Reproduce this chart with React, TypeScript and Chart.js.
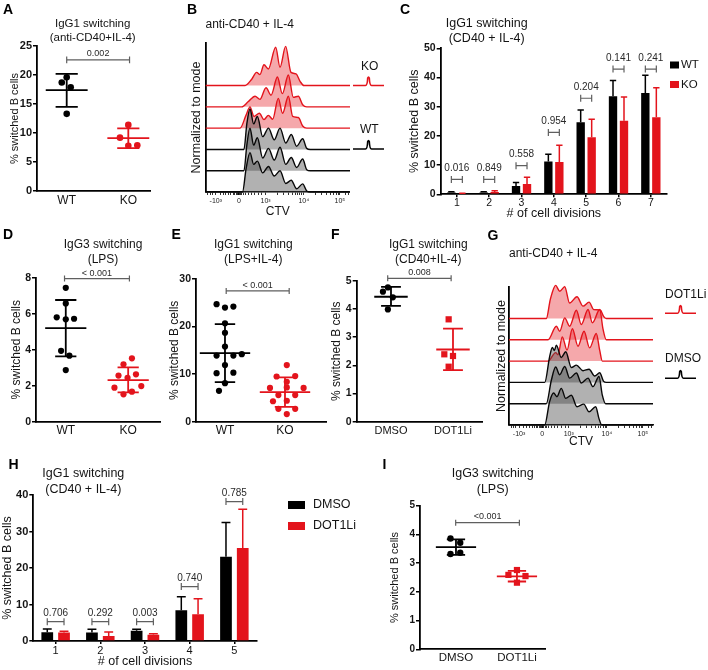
import { useEffect, useRef } from 'react';
import { Chart, registerables } from 'chart.js';

Chart.register(...registerables);

const PAGE_W = 708;
const PAGE_H = 670;
const FONT = '"Liberation Sans", Arial, Helvetica, sans-serif';
const RED = '#e3141c';
const BLK = '#000000';
const TXT = '#141414';
const BRK = '#5f5f5f';

// ===== Panel A : IgG1 switching (anti-CD40+IL-4) =====
const aCats = ['WT', 'KO'];
const aWT = [19.6, 18.7, 17.9, 13.3];
const aWTJit = [0, -0.08, 0.065, 0];
const aKO = [11.4, 9.2, 7.8, 7.9];
const aKOJit = [0, -0.135, 0, 0.146];
const aMean = [17.4, 9.1];
const aSdHi = [20.2, 10.8];
const aSdLo = [14.5, 7.4];

// ===== Panel C : IgG1 switching by division =====
const cCats = ['1', '2', '3', '4', '5', '6', '7'];
const cWT = [0.6, 0.6, 2.8, 11.2, 24.7, 33.6, 34.7];
const cWTsd = [0.3, 0.3, 1.2, 2.5, 4.2, 5.4, 6.1];
const cKO = [0.3, 0.8, 3.5, 11.1, 19.5, 25.2, 26.4];
const cKOsd = [0.1, 0.4, 2.3, 5.7, 6.2, 8.1, 10.1];
const cP = ['0.016', '0.849', '0.558', '0.954', '0.204', '0.141', '0.241'];
const cPy = [5.1, 5.1, 9.8, 21.2, 32.9, 42.9, 42.9];

// ===== Panel D : IgG3 switching (LPS) =====
const dCats = ['WT', 'KO'];
const dWT = [7.44, 6.57, 5.8, 5.69, 5.72, 3.94, 3.67, 2.87];
const dWTJit = [0, 0, -0.145, 0, 0.133, -0.075, 0.058, 0];
const dKO = [3.52, 3.19, 2.56, 2.44, 2.63, 1.89, 1.98, 1.67, 1.52];
const dKOJit = [0.06, -0.075, -0.155, -0.01, 0.125, -0.22, 0.21, 0.06, -0.075];
const dMean = [5.2, 2.31];
const dSdHi = [6.76, 3.02];
const dSdLo = [3.63, 1.63];

// ===== Panel E : IgG1 switching (LPS+IL-4) =====
const eCats = ['WT', 'KO'];
const eWT = [24.7, 24.0, 24.2, 20.7, 18.7, 15.8, 13.9, 13.9, 14.2, 11.9, 10.2, 10.3, 8.1, 6.5];
const eWTJit = [-0.14, 0, 0.14, 0, 0, 0, -0.14, 0.14, 0.28, 0, -0.14, 0.14, 0, -0.1];
const eKO = [11.9, 9.5, 9.6, 8.4, 7.1, 7.2, 7.1, 5.6, 5.6, 4.4, 2.7, 2.7, 1.6, 4.3];
const eKOJit = [0.03, -0.14, 0.17, 0.03, -0.25, 0.03, 0.31, -0.11, 0.17, 0.03, -0.11, 0.17, 0.03, -0.2];
const eMean = [14.4, 6.2];
const eSdHi = [20.5, 9.3];
const eSdLo = [8.3, 3.1];

// ===== Panel F : IgG1 switching (CD40+IL-4), DOT1L inhibitor =====
const fCats = ['DMSO', 'DOT1Li'];
const fDMSO = [4.76, 4.61, 4.41, 3.98];
const fDMSOJit = [-0.05, -0.13, 0.03, -0.05];
const fDOT = [3.63, 2.39, 2.33, 1.95];
const fDOTJit = [-0.07, -0.14, 0, -0.07];
const fMean = [4.43, 2.56];
const fSdHi = [4.78, 3.3];
const fSdLo = [4.11, 1.83];

// ===== Panel H : IgG1 switching by division, DOT1Li =====
const hCats = ['1', '2', '3', '4', '5'];
const hDMSO = [2.4, 2.3, 2.8, 8.4, 23.1];
const hDMSOsd = [0.9, 0.9, 0.4, 3.7, 9.4];
const hDOT = [2.3, 1.4, 1.7, 7.3, 25.5];
const hDOTsd = [0.35, 1.1, 0.3, 4.3, 10.6];
const hP = ['0.706', '0.292', '0.003', '0.740', '0.785'];
const hPy = [5.3, 5.3, 5.3, 14.9, 38.2];

// ===== Panel I : IgG3 switching (LPS), DOT1Li =====
const iCats = ['DMSO', 'DOT1Li'];
const iDMSO = [3.86, 3.71, 3.32, 3.36];
const iDMSOJit = [-0.09, 0.07, -0.09, 0.07];
const iDOT = [2.76, 2.59, 2.55, 2.32];
const iDOTJit = [0, -0.14, 0.14, 0];
const iMean = [3.56, 2.54];
const iSdHi = [3.83, 2.73];
const iSdLo = [3.29, 2.36];

// ===== CTV histograms (B, G): [channel %, height in lane units] =====
const ctvMajor = [7, 23, 41.5, 68, 93];
const ctvLabels = ['-10³', '0', '10³', '10⁴', '10⁵'];
const ctvMinor = [1.5, 3, 4.5, 10, 12, 14, 16, 17.5, 19, 20, 21, 21.8, 22.4, 23.6, 24.2, 25, 26, 27.5, 29.5, 31.5, 34, 36.5, 39, 49.5, 54, 57.3, 59.9, 62, 63.8, 65.3, 66.7, 76, 80.5, 84, 86.5, 88.5, 90.3, 91.8, 97, 99];
const laneBase = [0, 1, 2, 3, 4, 5];

const bBlack3 = [[0, 0], [25.5, 0], [28, 1.1], [30.7, 1.85], [33.2, 1.3], [35.8, 1.45], [39.5, 0.9], [43.5, 1.2], [47.5, 0.75], [51.5, 1.0], [55.5, 0.4], [59.3, 0.55], [63, 0.15], [67.2, 0.38], [70, 0.05], [72.5, 0], [100, 0]];
const bBlack2 = [[0, 0], [26.5, 0], [28.5, 1.2], [30.7, 2.0], [33.2, 1.2], [35.8, 1.55], [39.5, 0.6], [43.5, 1.05], [47.5, 0.5], [51.5, 1.1], [55.5, 0.3], [59.3, 0.62], [63, 0.15], [67.2, 0.55], [70, 0.05], [72.5, 0], [100, 0]];
const bBlack1 = [[0, 0], [26.5, 0], [28.5, 1.2], [30.7, 1.9], [33.2, 1.2], [35.8, 1.55], [39.5, 0.6], [43.5, 1.0], [47.5, 0.45], [51.5, 1.0], [55.5, 0.3], [59.3, 0.7], [63, 0.15], [67.2, 0.5], [70, 0.05], [72.5, 0], [100, 0]];
const bRed3 = [[0, 0], [23.8, 0], [27.9, 0.6], [30.7, 1.0], [33.5, 0.55], [37.2, 0.7], [40.4, 0.4], [43.4, 0.6], [46.4, 0.42], [50.3, 1.4], [53.3, 0.7], [57.3, 1.5], [60.3, 0.55], [64.2, 0.5], [67.2, 0.1], [70, 0], [100, 0]];
const bRed2 = [[0, 0], [24.9, 0], [29.6, 0.25], [34.2, 0.5], [37.6, 0.35], [41.8, 0.9], [45.3, 0.55], [49.7, 1.4], [53.1, 0.62], [57.3, 1.5], [60.7, 0.45], [64.2, 0.5], [67.2, 0.1], [70, 0], [100, 0]];
const bRed1 = [[0, 0], [27.3, 0], [31.9, 0.3], [35.3, 0.62], [37.6, 0.52], [40.4, 0.98], [43.4, 0.78], [48.5, 1.8], [51.5, 0.86], [55.4, 1.84], [59.1, 0.62], [62.6, 0.55], [65.4, 0.2], [68.1, 0], [100, 0]];

const gBlack3 = [[0, 0], [24.8, 0], [28.2, 1.1], [31, 1.5], [33.3, 1.33], [36.3, 1.72], [39.4, 1.25], [43.3, 1.4], [47.2, 0.86], [51.9, 0.98], [55.6, 0.62], [60.2, 0.86], [62.5, 0.3], [64.4, 0], [100, 0]];
const gBlack2 = [[0, 0], [25.9, 0], [29.4, 1.1], [32.4, 1.72], [35.2, 1.36], [38.7, 1.75], [42.1, 1.2], [46.8, 1.44], [50.2, 0.97], [54.9, 1.2], [58.3, 0.8], [62.5, 1.28], [64.8, 0.4], [67.1, 0], [100, 0]];
const gBlack1 = [[0, 0], [24.8, 0], [28.2, 1.2], [30.1, 1.64], [31.5, 1.5], [32.9, 1.75], [36.3, 1.17], [39.4, 1.44], [43.3, 0.7], [46.8, 0.81], [51.4, 0.55], [55.6, 0.62], [59.5, 0.3], [63, 0.45], [65.7, 0.05], [67.6, 0], [100, 0]];
const gRed3 = [[0, 0], [27.1, 0], [32.4, 0.4], [34, 0.3], [37, 1.14], [40.3, 0.52], [44, 1.52], [47.9, 0.7], [52.1, 1.4], [56, 0.62], [60.6, 1.3], [63, 0.5], [64.8, 0], [100, 0]];
const gRed2 = [[0, 0], [27.1, 0], [32.9, 0.64], [35.2, 0.4], [38.7, 1.03], [42.1, 0.64], [46.8, 1.39], [50.2, 0.72], [54.9, 1.42], [57.9, 0.8], [63, 1.42], [65.3, 0.5], [67.6, 0], [100, 0]];
const gRed1 = [[0, 0], [25.9, 0], [28.7, 0.9], [32.4, 1.55], [35.2, 1.28], [38.7, 1.5], [42.1, 0.73], [47.2, 1.02], [51.4, 0.58], [55.6, 0.77], [58.8, 0.42], [63.4, 0.4], [65.7, 0.1], [67.6, 0], [100, 0]];

// ---------- drawing helpers ----------
function drawText(ctx: any, t: string, x: number, y: number, size: number, align = 'center', weight = 'normal', color = TXT) {
  ctx.save();
  ctx.font = `${weight} ${size}px ${FONT}`;
  ctx.fillStyle = color;
  ctx.textAlign = align;
  ctx.textBaseline = 'middle';
  ctx.fillText(t, x, y);
  ctx.restore();
}

function drawBracket(ctx: any, x1: number, x2: number, y: number, label: string, dy: number, size: number, cap: number) {
  ctx.save();
  ctx.strokeStyle = BRK;
  ctx.lineWidth = 1.2;
  ctx.beginPath();
  ctx.moveTo(x1, y); ctx.lineTo(x2, y);
  ctx.moveTo(x1, y - cap); ctx.lineTo(x1, y + cap);
  ctx.moveTo(x2, y - cap); ctx.lineTo(x2, y + cap);
  ctx.stroke();
  ctx.restore();
  drawText(ctx, label, (x1 + x2) / 2, y - dy, size, 'center', 'normal', '#2a2a2a');
}

function drawPeak(ctx: any, x0: number, x1: number, base: number, top: number, color: string) {
  const xm = (x0 + x1) / 2;
  ctx.save();
  ctx.strokeStyle = color;
  ctx.lineWidth = 1.6;
  ctx.beginPath();
  ctx.moveTo(x0, base);
  ctx.lineTo(xm - 3, base);
  ctx.quadraticCurveTo(xm - 1.2, base, xm - 0.8, top + 1.5);
  ctx.quadraticCurveTo(xm, top - 0.5, xm + 0.8, top + 1.5);
  ctx.quadraticCurveTo(xm + 1.2, base, xm + 3, base);
  ctx.lineTo(x1, base);
  ctx.stroke();
  ctx.restore();
}

function decor(s: any) {
  return {
    id: 'decor',
    beforeDatasetsDraw(chart: any) {
      if (!s.summary) return;
      const ctx = chart.ctx;
      const xs = chart.scales.x;
      const ys = chart.scales.y;
      s.summary.mean.forEach((m: number, i: number) => {
        const c = i + 1;
        const cx = xs.getPixelForValue(c);
        const mh = xs.getPixelForValue(c + s.meanHalf) - cx;
        const ch = xs.getPixelForValue(c + s.capHalf) - cx;
        const yM = ys.getPixelForValue(m);
        const yH = ys.getPixelForValue(s.summary.hi[i]);
        const yL = ys.getPixelForValue(s.summary.lo[i]);
        ctx.save();
        ctx.strokeStyle = s.groups[i].color;
        ctx.lineWidth = 1.8;
        ctx.beginPath();
        ctx.moveTo(cx - mh, yM); ctx.lineTo(cx + mh, yM);
        ctx.moveTo(cx, yH); ctx.lineTo(cx, yL);
        ctx.moveTo(cx - ch, yH); ctx.lineTo(cx + ch, yH);
        ctx.moveTo(cx - ch, yL); ctx.lineTo(cx + ch, yL);
        ctx.stroke();
        ctx.restore();
      });
    },
    afterDatasetsDraw(chart: any) {
      const ctx = chart.ctx;
      const xs = chart.scales.x;
      const ys = chart.scales.y;
      if (s.series) {
        s.series.forEach((ser: any, k: number) => {
          const meta = chart.getDatasetMeta(k);
          meta.data.forEach((bar: any, i: number) => {
            const yTop = ys.getPixelForValue(ser.values[i] + ser.sd[i]);
            const cw = bar.width * 0.38;
            ctx.save();
            ctx.strokeStyle = ser.color;
            ctx.lineWidth = 1.5;
            ctx.beginPath();
            ctx.moveTo(bar.x, bar.y); ctx.lineTo(bar.x, yTop);
            ctx.moveTo(bar.x - cw, yTop); ctx.lineTo(bar.x + cw, yTop);
            ctx.stroke();
            ctx.restore();
          });
        });
        const m0 = chart.getDatasetMeta(0);
        const m1 = chart.getDatasetMeta(1);
        s.brackets.labels.forEach((lab: string, i: number) => {
          drawBracket(ctx, m0.data[i].x, m1.data[i].x, ys.getPixelForValue(s.brackets.y[i]), lab, s.brackets.dy, s.brackets.size, s.brackets.cap);
        });
      }
      if (s.bracket) {
        const b = s.bracket;
        drawBracket(ctx, xs.getPixelForValue(b.from), xs.getPixelForValue(b.to), ys.getPixelForValue(b.y), b.label, b.dy, b.size, b.cap);
      }
    },
    afterDraw(chart: any) {
      const ctx = chart.ctx;
      if (s.letter) drawText(ctx, s.letter[0], s.letter[1], s.letter[2], 14, 'left', 'bold', '#000');
      if (s.title) {
        s.title.lines.forEach((ln: string, i: number) => drawText(ctx, ln, s.title.x, s.title.ys[i], s.title.size, s.title.align || 'center'));
      }
      if (s.legend) {
        const L = s.legend;
        s.series.forEach((ser: any, k: number) => {
          ctx.save();
          ctx.fillStyle = ser.color;
          ctx.fillRect(L.x, L.ys[k] - L.h / 2, L.w, L.h);
          ctx.restore();
          drawText(ctx, ser.name, L.textX, L.ys[k], L.size, 'left');
        });
      }
      if (s.peakLegend) {
        s.peakLegend.forEach((it: any) => {
          drawPeak(ctx, it.x0, it.x1, it.base, it.top, it.color);
          drawText(ctx, it.label, it.textX, it.textY, 12, 'left');
        });
      }
    },
  };
}

function frame(s: any) {
  const scaleLeft = Math.max(0, s.yTitleX - s.yTitleSize * 0.6);
  return {
    padding: { left: scaleLeft, top: s.box.t, right: PAGE_W - s.box.r, bottom: PAGE_H - s.box.b - s.xH },
    yWidth: s.box.l - scaleLeft,
  };
}

function yAxis(s: any, yWidth: number, title: string, showTicks = true) {
  return {
    min: 0,
    max: s.yMax,
    afterFit: (sc: any) => { sc.width = yWidth; },
    ticks: { display: showTicks, stepSize: s.yStep, font: { size: s.tickSize, weight: 'bold' }, color: TXT, padding: 1 },
    grid: { display: showTicks, drawOnChartArea: false, drawTicks: true, tickLength: 4, color: BLK, lineWidth: 1.5 },
    border: { display: true, color: BLK, width: 1.8 },
    title: { display: true, text: title, font: { size: s.yTitleSize }, color: TXT, padding: 0 },
  };
}

const baseOpts = {
  responsive: false,
  animation: false,
  events: [],
};

function makeScatter(s: any) {
  const lay = frame(s);
  const datasets = s.groups.map((g: any, gi: number) => ({
    type: 'scatter',
    label: s.cats[gi],
    data: g.values.map((v: number, i: number) => ({ x: gi + 1 + g.jit[i], y: v })),
    pointStyle: g.shape,
    pointRadius: g.radius,
    backgroundColor: g.color,
    borderColor: g.color,
    borderWidth: 0,
    clip: false,
  }));
  return {
    type: 'scatter',
    data: { datasets },
    options: {
      ...baseOpts,
      layout: { padding: lay.padding },
      plugins: { legend: { display: false }, tooltip: { enabled: false } },
      scales: {
        x: {
          type: 'linear',
          min: s.xMin,
          max: s.xMax,
          afterBuildTicks: (sc: any) => { sc.ticks = s.cats.map((_: string, i: number) => ({ value: i + 1 })); },
          afterFit: (sc: any) => { sc.height = s.xH; },
          grid: { display: false, drawTicks: false },
          border: { display: true, color: BLK, width: 1.8 },
          ticks: { callback: (v: number) => s.cats[Math.round(v) - 1], font: { size: s.catSize }, color: TXT, padding: s.catPad, maxRotation: 0, autoSkip: false },
        },
        y: yAxis(s, lay.yWidth, '% switched B cells'),
      },
    },
    plugins: [decor(s)],
  };
}

function makeBars(s: any) {
  const lay = frame(s);
  return {
    type: 'bar',
    data: {
      labels: s.cats,
      datasets: s.series.map((ser: any) => ({
        label: ser.name,
        data: ser.values,
        backgroundColor: ser.color,
        borderWidth: 0,
        categoryPercentage: s.catPct,
        barPercentage: s.barPct,
      })),
    },
    options: {
      ...baseOpts,
      layout: { padding: lay.padding },
      plugins: { legend: { display: false }, tooltip: { enabled: false } },
      scales: {
        x: {
          type: 'category',
          offset: true,
          afterFit: (sc: any) => { sc.height = s.xH; },
          grid: { display: true, offset: false, drawOnChartArea: false, tickLength: 3, color: BLK, lineWidth: 1.5 },
          border: { display: true, color: BLK, width: 1.8 },
          ticks: { font: { size: s.catSize }, color: TXT, padding: 0, maxRotation: 0, autoSkip: false },
          title: { display: true, text: '# of cell divisions', font: { size: s.xTitleSize }, color: TXT, padding: 0 },
        },
        y: yAxis(s, lay.yWidth, '% switched B cells'),
      },
    },
    plugins: [decor(s)],
  };
}

function makeHist(s: any) {
  const lay = frame(s);
  const ticksAll = [...ctvMajor, ...ctvMinor].sort((a, b) => a - b);
  const datasets = s.lanes.map((pts: number[][], i: number) => {
    const red = i >= 3;
    const base = laneBase[i];
    return {
      type: 'line',
      data: pts.map((p) => ({ x: p[0], y: base + p[1] })),
      borderColor: red ? RED : '#080808',
      backgroundColor: red ? 'rgba(232,48,54,0.42)' : 'rgba(70,70,70,0.42)',
      borderWidth: 1.4,
      pointRadius: 0,
      fill: { value: base },
      cubicInterpolationMode: 'monotone',
      clip: false,
    };
  });
  return {
    type: 'line',
    data: { datasets },
    options: {
      ...baseOpts,
      layout: { padding: lay.padding },
      plugins: { legend: { display: false }, tooltip: { enabled: false } },
      scales: {
        x: {
          type: 'linear',
          min: 0,
          max: 100,
          afterBuildTicks: (sc: any) => { sc.ticks = ticksAll.map((v) => ({ value: v })); },
          afterFit: (sc: any) => { sc.height = s.xH; },
          ticks: {
            callback: (v: number) => { const k = ctvMajor.indexOf(v); return k >= 0 ? ctvLabels[k] : ''; },
            font: { size: 7 }, color: '#222', padding: 2, autoSkip: false, maxRotation: 0, minRotation: 0,
          },
          grid: { display: true, drawOnChartArea: false, tickLength: 3, color: BLK, lineWidth: 0.8 },
          border: { display: true, color: BLK, width: 1.6 },
          title: { display: true, text: 'CTV', font: { size: 12 }, color: TXT, padding: 0 },
        },
        y: yAxis(s, lay.yWidth, 'Normalized to mode', false),
      },
    },
    plugins: [decor(s)],
  };
}

function buildConfigs() {
  const A = makeScatter({
    box: { l: 37, t: 46, r: 150, b: 191 }, xMin: 0.518, xMax: 2.352, xH: 20,
    cats: aCats,
    groups: [
      { values: aWT, jit: aWTJit, color: BLK, shape: 'circle', radius: 3.3 },
      { values: aKO, jit: aKOJit, color: RED, shape: 'circle', radius: 3.3 },
    ],
    summary: { mean: aMean, hi: aSdHi, lo: aSdLo }, meanHalf: 0.34, capHalf: 0.18,
    yMax: 25, yStep: 5, tickSize: 11, yTitleX: 15, yTitleSize: 11, catSize: 12, catPad: 2,
    letter: ['A', 3, 10],
    title: { lines: ['IgG1 switching', '(anti-CD40+IL-4)'], x: 92.7, ys: [24, 37.7], size: 11.5 },
    bracket: { from: 1, to: 2.02, y: 22.6, label: '0.002', dy: 6, size: 9, cap: 3.3 },
  });
  const B = makeHist({
    box: { l: 205.7, t: 43, r: 350, b: 192 }, xH: 27.2, yMax: 7, yTitleX: 197, yTitleSize: 12.5,
    lanes: [bBlack3, bBlack2, bBlack1, bRed3, bRed2, bRed1],
    letter: ['B', 187, 10],
    title: { lines: ['anti-CD40 + IL-4'], x: 205.5, ys: [25], size: 12, align: 'left' },
    peakLegend: [
      { label: 'KO', color: RED, textX: 361, textY: 67, x0: 353, x1: 384, base: 85.5, top: 76.5 },
      { label: 'WT', color: BLK, textX: 360, textY: 130, x0: 353, x1: 384, base: 149, top: 140 },
    ],
  });
  const C = makeBars({
    box: { l: 440.7, t: 48.3, r: 667, b: 194.3 }, xH: 26.5,
    cats: cCats,
    series: [
      { name: 'WT', values: cWT, sd: cWTsd, color: BLK },
      { name: 'KO', values: cKO, sd: cKOsd, color: RED },
    ],
    catPct: 0.68, barPct: 0.76,
    yMax: 50, yStep: 10, tickSize: 10.5, yTitleX: 415, yTitleSize: 12.5, catSize: 10.5, xTitleSize: 12.5,
    letter: ['C', 400, 10],
    title: { lines: ['IgG1 switching', '(CD40 + IL-4)'], x: 486.7, ys: [24, 38.3], size: 12.5 },
    legend: { x: 670, w: 9, h: 7, textX: 681, ys: [65, 84.5], size: 11.5 },
    brackets: { y: cPy, labels: cP, dy: 11, size: 10, cap: 3.5 },
  });
  const D = makeScatter({
    box: { l: 36, t: 277.7, r: 160, b: 421.7 }, xMin: 0.523, xMax: 2.51, xH: 20,
    cats: dCats,
    groups: [
      { values: dWT, jit: dWTJit, color: BLK, shape: 'circle', radius: 3.1 },
      { values: dKO, jit: dKOJit, color: RED, shape: 'circle', radius: 3.1 },
    ],
    summary: { mean: dMean, hi: dSdHi, lo: dSdLo }, meanHalf: 0.33, capHalf: 0.17,
    yMax: 8, yStep: 2, tickSize: 10.5, yTitleX: 16.7, yTitleSize: 12, catSize: 12, catPad: 1.5,
    letter: ['D', 3, 235],
    title: { lines: ['IgG3 switching', '(LPS)'], x: 103, ys: [245, 260], size: 12 },
    bracket: { from: 0.98, to: 2.02, y: 7.95, label: '< 0.001', dy: 5, size: 9, cap: 3 },
  });
  const E = makeScatter({
    box: { l: 196, t: 279, r: 326.7, b: 421.7 }, xMin: 0.517, xMax: 2.695, xH: 20,
    cats: eCats,
    groups: [
      { values: eWT, jit: eWTJit, color: BLK, shape: 'circle', radius: 3.1 },
      { values: eKO, jit: eKOJit, color: RED, shape: 'circle', radius: 3.1 },
    ],
    summary: { mean: eMean, hi: eSdHi, lo: eSdLo }, meanHalf: 0.42, capHalf: 0.17,
    yMax: 30, yStep: 10, tickSize: 10.5, yTitleX: 175, yTitleSize: 12, catSize: 12, catPad: 1.5,
    letter: ['E', 171.5, 235],
    title: { lines: ['IgG1 switching', '(LPS+IL-4)'], x: 253.3, ys: [245, 260], size: 12 },
    bracket: { from: 1.02, to: 2.07, y: 27.5, label: '< 0.001', dy: 5, size: 9, cap: 3 },
  });
  const F = makeScatter({
    box: { l: 356.7, t: 280.7, r: 483, b: 421.7 }, xMin: 0.447, xMax: 2.484, xH: 20,
    cats: fCats,
    groups: [
      { values: fDMSO, jit: fDMSOJit, color: BLK, shape: 'circle', radius: 3.1 },
      { values: fDOT, jit: fDOTJit, color: RED, shape: 'rect', radius: 4.4 },
    ],
    summary: { mean: fMean, hi: fSdHi, lo: fSdLo }, meanHalf: 0.27, capHalf: 0.16,
    yMax: 5, yStep: 1, tickSize: 10.5, yTitleX: 336.7, yTitleSize: 12, catSize: 11, catPad: 3,
    letter: ['F', 331, 235],
    title: { lines: ['IgG1 switching', '(CD40+IL-4)'], x: 428.3, ys: [245, 260], size: 12 },
    bracket: { from: 0.947, to: 1.97, y: 5.085, label: '0.008', dy: 5.6, size: 9, cap: 3 },
  });
  const G = makeHist({
    box: { l: 509, t: 287, r: 653, b: 425 }, xH: 23.9, yMax: 6.48, yTitleX: 502, yTitleSize: 12.5,
    lanes: [gBlack3, gBlack2, gBlack1, gRed3, gRed2, gRed1],
    letter: ['G', 487.5, 236],
    title: { lines: ['anti-CD40 + IL-4'], x: 509, ys: [253.3], size: 12, align: 'left' },
    peakLegend: [
      { label: 'DOT1Li', color: RED, textX: 665, textY: 295, x0: 665, x1: 696, base: 313.3, top: 305 },
      { label: 'DMSO', color: BLK, textX: 665, textY: 358.3, x0: 665, x1: 696, base: 378.3, top: 370 },
    ],
  });
  const Hc = makeBars({
    box: { l: 33.3, t: 495, r: 256.7, b: 641 }, xH: 28.2,
    cats: hCats,
    series: [
      { name: 'DMSO', values: hDMSO, sd: hDMSOsd, color: BLK },
      { name: 'DOT1Li', values: hDOT, sd: hDOTsd, color: RED },
    ],
    catPct: 0.75, barPct: 0.7,
    yMax: 40, yStep: 10, tickSize: 11, yTitleX: 7.5, yTitleSize: 12.5, catSize: 11, xTitleSize: 12.5,
    letter: ['H', 8.5, 465],
    title: { lines: ['IgG1 switching', '(CD40 + IL-4)'], x: 83.3, ys: [473.3, 490], size: 12.5 },
    legend: { x: 288, w: 17, h: 8, textX: 313, ys: [505, 526], size: 12.5 },
    brackets: { y: hPy, labels: hP, dy: 8.5, size: 10, cap: 3.5 },
  });
  const I = makeScatter({
    box: { l: 420, t: 505.7, r: 545, b: 649.3 }, xMin: 0.41, xMax: 2.46, xH: 18,
    cats: iCats,
    groups: [
      { values: iDMSO, jit: iDMSOJit, color: BLK, shape: 'circle', radius: 3.2 },
      { values: iDOT, jit: iDOTJit, color: RED, shape: 'rect', radius: 4.4 },
    ],
    summary: { mean: iMean, hi: iSdHi, lo: iSdLo }, meanHalf: 0.33, capHalf: 0.15,
    yMax: 5, yStep: 1, tickSize: 10, yTitleX: 395, yTitleSize: 11, catSize: 11.5, catPad: 2,
    letter: ['I', 382.5, 465],
    title: { lines: ['IgG3 switching', '(LPS)'], x: 492.7, ys: [473.3, 490], size: 12.5 },
    bracket: { from: 0.995, to: 2.04, y: 4.41, label: '<0.001', dy: 6, size: 9, cap: 3 },
  });
  return [A, B, C, D, E, F, G, Hc, I];
}

export default function App() {
  const refs = useRef<(HTMLCanvasElement | null)[]>([]);
  useEffect(() => {
    Chart.defaults.font.family = FONT;
    Chart.defaults.color = TXT;
    const configs = buildConfigs();
    const charts = configs.map((cfg: any, i: number) => new Chart(refs.current[i] as HTMLCanvasElement, cfg));
    return () => { charts.forEach((c) => c.destroy()); };
  }, []);
  return (
    <div style={{ position: 'absolute', left: 0, top: 0, width: PAGE_W, height: PAGE_H, background: '#fff', overflow: 'hidden' }}>
      {Array.from({ length: 9 }).map((_, i) => (
        <canvas
          key={i}
          ref={(el) => { refs.current[i] = el; }}
          width={PAGE_W}
          height={PAGE_H}
          style={{ position: 'absolute', left: 0, top: 0 }}
        />
      ))}
    </div>
  );
}
